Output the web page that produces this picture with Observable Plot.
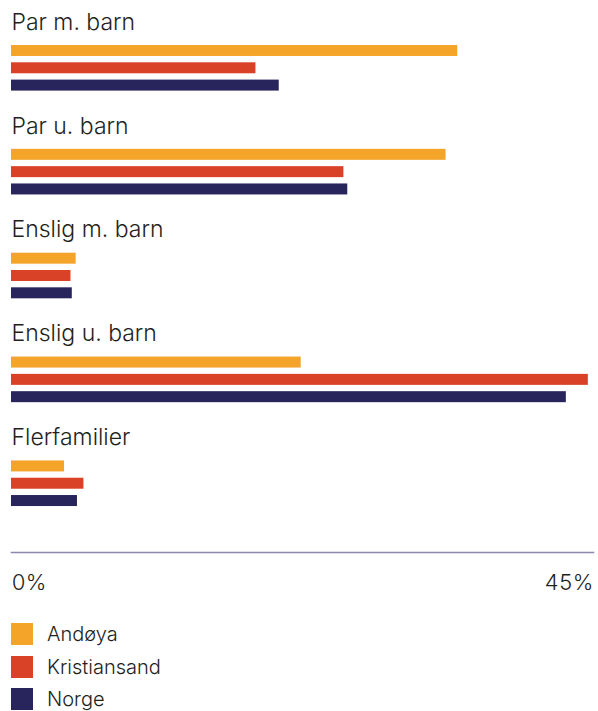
<!DOCTYPE html>
<html>
<head>
<meta charset="utf-8">
<script src="https://cdn.jsdelivr.net/npm/d3@7"></script>
<script src="https://cdn.jsdelivr.net/npm/@observablehq/plot@0.6"></script>
<style>
  html, body { margin: 0; padding: 0; background: #fff; }
  body { width: 598px; font-family: Inter, Roboto, "Helvetica Neue", Arial, sans-serif; font-weight: 300; color: #231f20; }
  #legend { margin-top: 23px; margin-left: 11px; }
  .item { display: flex; align-items: center; height: 22px; margin-bottom: 10.5px; font-size: 20px; }
  .sw { width: 22px; height: 22px; margin-right: 14px; flex: none; }
</style>
</head>
<body>
<div id="chart"></div>
<div id="legend"></div>
<script>
const categories = ["Par m. barn", "Par u. barn", "Enslig m. barn", "Enslig u. barn", "Flerfamilier"];
const series = ["Andøya", "Kristiansand", "Norge"];
const colors = ["#F5A42A", "#D94226", "#28245C"];
const andoya       = [34.5, 33.6, 5.0, 22.4, 4.1];
const kristiansand = [18.9, 25.7, 4.6, 44.6, 5.6];
const norge        = [20.7, 26.0, 4.7, 42.9, 5.1];
const xTicks = [0, 45];

const valuesBySeries = [andoya, kristiansand, norge];
const data = [];
categories.forEach((c, i) => series.forEach((s, j) => data.push({category: c, series: s, value: valuesBySeries[j][i]})));

const key = (c, s) => c + "::" + s;
const yDomain = categories.flatMap(c => [key(c, "top"), key(c, "label"), ...series.map(s => key(c, s)), key(c, "gap")]);

const font = "Inter, Roboto, 'Helvetica Neue', Arial, sans-serif";
const plot = Plot.plot({
  width: 598,
  height: 600,
  marginLeft: 11,
  marginRight: 5,
  marginTop: 7.2,
  marginBottom: 48,
  style: {fontFamily: font, fontWeight: 300, color: "#231f20", background: "#fff"},
  x: {domain: [0, 45], label: null},
  y: {type: "band", domain: yDomain, paddingInner: 0.365, paddingOuter: 0.1825, insetBottom: 25.5, round: false, axis: null},
  color: {domain: series, range: colors},
  marks: [
    Plot.barX(data, {x: "value", y: d => key(d.category, d.series), fill: "series"}),
    Plot.text(categories, {y: d => key(d, "label"), text: d => d, frameAnchor: "left", textAnchor: "start", lineAnchor: "bottom", dy: -4, fontSize: 23, fontWeight: 300, fill: "#231f20"}),
    Plot.frame({anchor: "bottom", stroke: "#8B88AE", strokeWidth: 1.5}),
    Plot.axisX({ticks: xTicks.slice(0, 1), label: null, tickSize: 0, tickPadding: 21.7, tickFormat: d => d + "%", textAnchor: "start", fontSize: 22, fontWeight: 300, fill: "#231f20"}),
    Plot.axisX({ticks: xTicks.slice(1), label: null, tickSize: 0, tickPadding: 21.7, tickFormat: d => d + "%", textAnchor: "end", fontSize: 22, fontWeight: 300, fill: "#231f20"})
  ]
});
document.getElementById("chart").appendChild(plot);

const legend = document.getElementById("legend");
series.forEach((s, i) => {
  const item = document.createElement("div");
  item.className = "item";
  const sw = document.createElement("span");
  sw.className = "sw";
  sw.style.background = colors[i];
  const t = document.createElement("span");
  t.textContent = s;
  item.appendChild(sw);
  item.appendChild(t);
  legend.appendChild(item);
});
</script>
</body>
</html>
